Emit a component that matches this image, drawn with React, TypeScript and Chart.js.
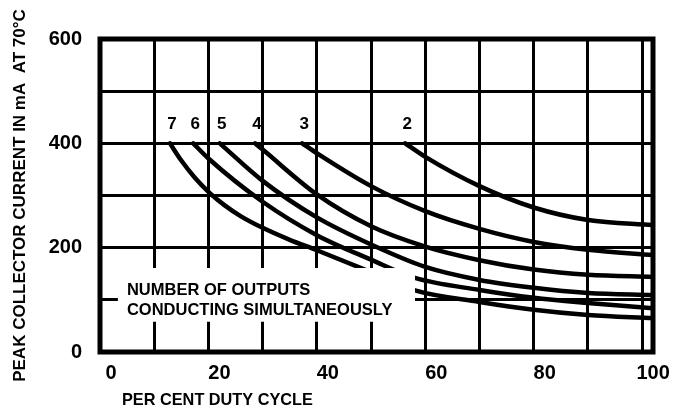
import React, { useEffect, useRef } from 'react';
import { Chart, registerables } from 'chart.js';

Chart.register(...registerables);

// Tick labels
const X_TICK_LABELS = [0, 20, 40, 60, 80, 100];
const Y_TICK_LABELS = [0, 200, 400, 600];

// Curve names (number of outputs conducting simultaneously)
const CURVE_NAMES = ['2', '3', '4', '5', '6', '7'];

// Series: [per cent duty cycle, peak collector current mA]
const OUT2: [number, number][] = [
  [56.3, 400], [60, 374], [70, 318], [80, 277], [90, 253], [102, 243],
];
const OUT3: [number, number][] = [
  [37.3, 400], [40, 381], [50, 318], [60, 270], [70, 236], [80, 211], [90, 196], [102, 186],
];
const OUT4: [number, number][] = [
  [28.6, 400], [30, 388], [40, 302], [50, 241], [60, 202], [70, 176], [80, 158], [90, 148], [102, 144],
];
const OUT5: [number, number][] = [
  [22.1, 400], [30, 328], [40, 258], [50, 206], [60, 163], [70, 138], [80, 123], [90, 113], [102, 109],
];
const OUT6: [number, number][] = [
  [17.2, 400], [20, 371], [30, 288], [40, 224], [50, 177], [58.1, 142], [70, 119], [80, 104], [90, 94], [102, 84],
];
const OUT7: [number, number][] = [
  [12.9, 400], [15, 367], [17.5, 334], [20.3, 304], [23, 281], [26, 260], [30, 238], [35, 215], [40, 195], [50, 153], [58.1, 118], [70, 96], [80, 81], [90, 71], [102, 65],
];

const SERIES = [OUT2, OUT3, OUT4, OUT5, OUT6, OUT7];

const NOTE_LINES = ['NUMBER OF OUTPUTS', 'CONDUCTING SIMULTANEOUSLY'];
const NOTE_BOX = { x0: 3.3, x1: 58.1, y0: 58, y1: 161 };

const X_TITLE = 'PER CENT DUTY CYCLE';
const Y_TITLE = 'PEAK COLLECTOR CURRENT IN mA  AT 70°C';

const FONT_FAMILY = '"Liberation Sans", Arial, Helvetica, sans-serif';

const annotationPlugin = {
  id: 'datasheetAnnotations',
  afterDatasetsDraw(chart: any) {
    const { ctx, chartArea, scales } = chart;
    const xs = scales.x;
    const ys = scales.y;
    ctx.save();

    // white note box
    const bx0 = xs.getPixelForValue(NOTE_BOX.x0);
    const bx1 = xs.getPixelForValue(NOTE_BOX.x1);
    const by0 = ys.getPixelForValue(NOTE_BOX.y1);
    const by1 = ys.getPixelForValue(NOTE_BOX.y0);
    ctx.fillStyle = '#ffffff';
    ctx.fillRect(bx0, by0, bx1 - bx0, by1 - by0);

    ctx.fillStyle = '#000000';
    ctx.font = `bold 16.5px ${FONT_FAMILY}`;
    ctx.textAlign = 'left';
    ctx.textBaseline = 'alphabetic';
    ctx.fillText(NOTE_LINES[0], bx0 + 9, by0 + 27);
    ctx.fillText(NOTE_LINES[1], bx0 + 9, by0 + 47);

    // curve labels at start of each curve
    ctx.font = `bold 17px ${FONT_FAMILY}`;
    ctx.textAlign = 'center';
    chart.data.datasets.forEach((ds: any, i: number) => {
      const meta = chart.getDatasetMeta(i);
      const p = meta.data[0];
      if (p) ctx.fillText(ds.label, p.x + 2, p.y - 14);
    });

    // frame
    ctx.lineWidth = 5;
    ctx.strokeStyle = '#000000';
    ctx.strokeRect(chartArea.left, chartArea.top, chartArea.right - chartArea.left, chartArea.bottom - chartArea.top);

    // x-axis title
    ctx.font = `bold 16.3px ${FONT_FAMILY}`;
    ctx.textAlign = 'left';
    ctx.textBaseline = 'alphabetic';
    ctx.fillText(X_TITLE, chartArea.left + 22, chartArea.bottom + 53);

    ctx.restore();
  },
};

export default function App() {
  const canvasRef = useRef<HTMLCanvasElement | null>(null);

  useEffect(() => {
    document.body.style.margin = '0';
    const canvas = canvasRef.current;
    if (!canvas) return;

    const chart = new Chart(canvas, {
      type: 'line',
      data: {
        datasets: SERIES.map((s, i) => ({
          label: CURVE_NAMES[i],
          data: s.map(([x, y]) => ({ x, y })),
          borderColor: '#000000',
          borderWidth: 4.5,
          pointRadius: 0,
          fill: false,
          cubicInterpolationMode: 'monotone' as const,
          borderCapStyle: 'round' as const,
        })),
      },
      options: {
        animation: false,
        responsive: false,
        devicePixelRatio: 1,
        layout: { padding: { top: 39, right: 24, bottom: 0, left: 0 } },
        plugins: {
          legend: { display: false },
          tooltip: { enabled: false },
        },
        scales: {
          x: {
            type: 'linear',
            min: 0,
            max: 102,
            afterFit: (s: any) => { s.height = 58; },
            grid: { color: '#000000', lineWidth: 3, drawTicks: false },
            border: { display: false },
            ticks: {
              stepSize: 10,
              includeBounds: false,
              autoSkip: false,
              maxRotation: 0,
              padding: 9,
              labelOffset: 11,
              color: '#000000',
              font: { family: FONT_FAMILY, size: 20, weight: 'bold' },
              callback: (v: any) => (X_TICK_LABELS.includes(Number(v)) ? String(v) : ''),
            },
            title: { display: false },
          },
          y: {
            type: 'linear',
            min: 0,
            max: 600,
            afterFit: (s: any) => { s.width = 100; },
            grid: { color: '#000000', lineWidth: 3, drawTicks: false },
            border: { display: false },
            ticks: {
              stepSize: 100,
              autoSkip: false,
              padding: 18,
              color: '#000000',
              font: { family: FONT_FAMILY, size: 20, weight: 'bold' },
              callback: (v: any) => (Y_TICK_LABELS.includes(Number(v)) ? String(v) : ''),
            },
            title: {
              display: true,
              text: Y_TITLE,
              color: '#000000',
              font: { family: FONT_FAMILY, size: 17, weight: 'bold' },
              padding: { top: 10, bottom: 0 },
            },
          },
        },
      },
      plugins: [annotationPlugin],
    });

    return () => chart.destroy();
  }, []);

  return (
    <div style={{ width: 677, height: 410, background: '#fff' }}>
      <canvas ref={canvasRef} width={677} height={410} />
    </div>
  );
}
